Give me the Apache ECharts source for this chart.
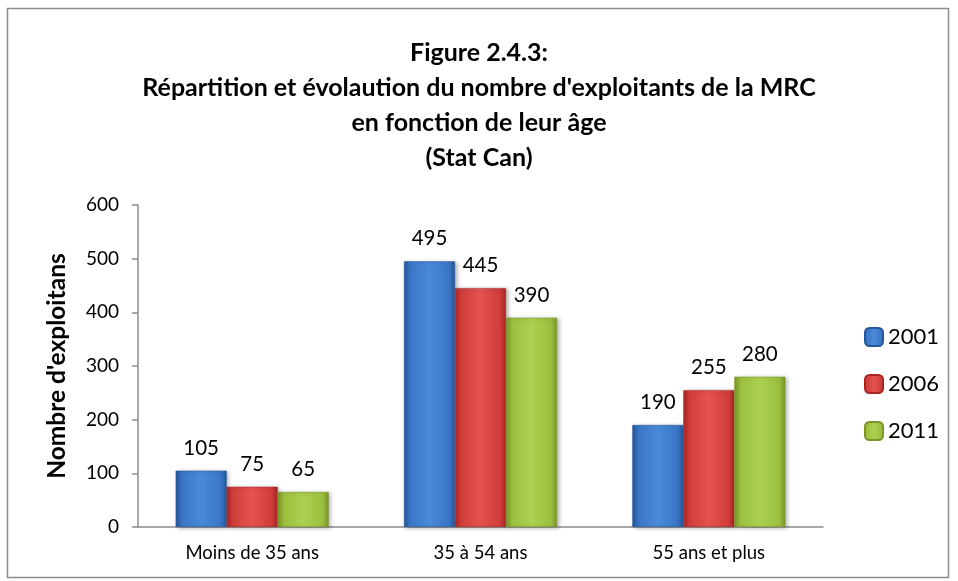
<!DOCTYPE html>
<html><head><meta charset="utf-8">
<script src="https://cdn.jsdelivr.net/npm/echarts@6/dist/echarts.min.js"></script>
<style>html,body{margin:0;padding:0;background:#fff}#c{width:958px;height:581px}</style>
</head><body><div id="c"></div>
<script>
const categories = ['Moins de 35 ans', '35 à 54 ans', '55 ans et plus'];
const seriesNames = ['2001', '2006', '2011'];
const values2001 = [105, 495, 190];
const values2006 = [75, 445, 255];
const values2011 = [65, 390, 280];
const yTicks = [0, 100, 200, 300, 400, 500, 600];
const titleLines = ['Figure 2.4.3:', "Répartition et évolaution du nombre d'exploitants de la MRC", 'en fonction de leur âge', '(Stat Can)'];
const yAxisName = "Nombre d'exploitans";

const FONT = 'Lato';
const palettes = [
  {edge:'#25569a', mid:'#4a8ad8', base:'#3b76c6'},
  {edge:'#a92523', mid:'#e4534f', base:'#d03e3b'},
  {edge:'#7a9428', mid:'#acd04f', base:'#9bbf3e'}
];
function grad(p){
  return new echarts.graphic.LinearGradient(0,0,1,0,[
    {offset:0, color:p.edge},{offset:0.12, color:p.base},{offset:0.5, color:p.mid},{offset:0.88, color:p.base},{offset:1, color:p.edge}
  ]);
}
const allValues = [values2001, values2006, values2011];
const chart = echarts.init(document.getElementById('c'));
chart.setOption({
  animation:false,
  backgroundColor:'#fff',
  graphic:[{type:'rect', shape:{x:7.5,y:8.5,width:941,height:569}, style:{fill:'none', stroke:'#8c8c8c', lineWidth:1.5}}],
  title:{
    text: titleLines.join('\n'), left:'center', top:30,
    textStyle:{fontFamily:FONT, fontWeight:'bold', fontSize:25, lineHeight:35, color:'#000'}
  },
  legend:{
    orient:'vertical', left:859, top:321, itemWidth:18, itemHeight:18, itemGap:25,
    data: seriesNames,
    textStyle:{fontFamily:FONT, fontSize:22, color:'#000', padding:[0,0,0,0]}
  },
  grid:{left:138, right:135, top:205, bottom:54, containLabel:false},
  xAxis:{
    type:'category', data:categories,
    axisLine:{lineStyle:{color:'#8c8c8c', width:1.5}},
    axisTick:{length:6, lineStyle:{color:'#8c8c8c', width:1.5}},
    axisLabel:{fontFamily:FONT, fontSize:18.5, color:'#000', margin:17}
  },
  yAxis:{
    type:'value', min:yTicks[0], max:yTicks[yTicks.length-1], interval:100,
    name:yAxisName, nameLocation:'middle', nameGap:68, nameRotate:90,
    nameTextStyle:{fontFamily:FONT, fontWeight:'bold', fontSize:24.5, color:'#000'},
    axisLine:{show:true, lineStyle:{color:'#8c8c8c', width:1.5}},
    axisTick:{show:true, length:6, lineStyle:{color:'#8c8c8c', width:1.5}},
    splitLine:{show:false},
    axisLabel:{fontFamily:FONT, fontSize:19, color:'#000', margin:19}
  },
  series: seriesNames.map((n,i)=>({
    name:n, type:'bar', data:allValues[i], barGap:'0%', barCategoryGap:'33%',
    itemStyle:{color:grad(palettes[i]), borderColor:palettes[i].edge, borderWidth:0.5, shadowColor:'rgba(0,0,0,0.3)', shadowBlur:4, shadowOffsetX:2, shadowOffsetY:1},
    label:{show:true, position:'top', distance:12, fontFamily:FONT, fontSize:20.5, color:'#000'}
  }))
});
</script></body></html>
